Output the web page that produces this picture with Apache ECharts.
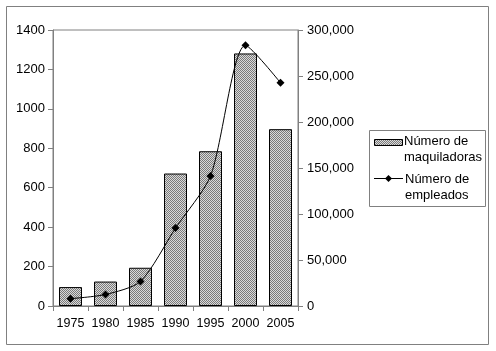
<!DOCTYPE html>
<html>
<head>
<meta charset="utf-8">
<script src="https://cdn.jsdelivr.net/npm/echarts@6/dist/echarts.min.js"></script>
<style>
  html, body { margin: 0; padding: 0; background: #fff; }
  #chart { width: 496px; height: 351px; }
</style>
</head>
<body>
<div id="chart"></div>
<script>
var years = ['1975', '1980', '1985', '1990', '1995', '2000', '2005'];
var maquiladoras = [96, 124, 194, 672, 785, 1281, 897];
var empleados = [8000, 12500, 26700, 84700, 141300, 283300, 242600];
var leftTicks = { min: 0, max: 1400, interval: 200 };
var rightTicks = { min: 0, max: 300000, interval: 50000 };

// fine gray hatch like the old spreadsheet fill
function makeHatch() {
    var c = document.createElement('canvas');
    c.width = 4; c.height = 4;
    var ctx = c.getContext('2d');
    ctx.fillStyle = '#dadada';
    ctx.fillRect(0, 0, 4, 4);
    ctx.fillStyle = '#7a7a7a';
    for (var i = 0; i < 4; i++) {
        ctx.fillRect(i, i % 4, 1, 1);
        ctx.fillRect(i, (i + 2) % 4, 1, 1);
    }
    return c;
}
var hatch = makeHatch();

var font = 'Liberation Sans, Arial, sans-serif';
var gray = '#808080';

var chart = echarts.init(document.getElementById('chart'));
var option = {
    backgroundColor: '#fff',
    animation: false,
    textStyle: { fontFamily: font },
    grid: {
        left: 53, right: 198, top: 30, bottom: 45,
        show: true, borderColor: gray, borderWidth: 1, backgroundColor: 'transparent'
    },
    xAxis: {
        type: 'category',
        data: years,
        axisLine: { lineStyle: { color: gray } },
        axisTick: { show: true, length: 5, interval: 0, lineStyle: { color: gray } },
        axisLabel: { color: '#000', fontSize: 12.5, margin: 11, interval: 0, hideOverlap: false, fontFamily: font }
    },
    yAxis: [{
        type: 'value',
        min: leftTicks.min, max: leftTicks.max, interval: leftTicks.interval,
        axisLine: { show: true, lineStyle: { color: gray } },
        axisTick: { show: true, length: 5, lineStyle: { color: gray } },
        splitLine: { show: false },
        axisLabel: { color: '#000', fontSize: 13, margin: 8, fontFamily: font,
            formatter: function (v) { return String(v); } }
    }, {
        type: 'value',
        position: 'right',
        min: rightTicks.min, max: rightTicks.max, interval: rightTicks.interval,
        axisLine: { show: true, lineStyle: { color: gray } },
        axisTick: { show: true, length: 5, lineStyle: { color: gray } },
        splitLine: { show: false },
        axisLabel: {
            color: '#000', fontSize: 13, margin: 9, fontFamily: font,
            formatter: function (v) { return v.toString().replace(/\B(?=(\d{3})+(?!\d))/g, ','); }
        }
    }],
    series: [{
        name: 'Número de maquiladoras',
        type: 'bar',
        yAxisIndex: 0,
        data: maquiladoras,
        barWidth: 23,
        itemStyle: { color: { image: hatch, repeat: 'repeat' }, borderColor: '#000', borderWidth: 1 }
    }, {
        name: 'Número de empleados',
        type: 'line',
        yAxisIndex: 1,
        data: empleados,
        smooth: 0.25,
        symbol: 'diamond',
        symbolSize: 8,
        lineStyle: { color: '#000', width: 1 },
        itemStyle: { color: '#000' }
    }],
    graphic: [
        { type: 'rect', shape: { x: 6.5, y: 6.5, width: 482, height: 338 },
          style: { fill: 'none', stroke: gray, lineWidth: 1 }, silent: true },
        { type: 'group', left: 369, top: 130, children: [
            { type: 'rect', shape: { x: 0.5, y: 0.5, width: 116, height: 76 },
              style: { fill: '#fff', stroke: gray, lineWidth: 1 } },
            { type: 'rect', shape: { x: 5.5, y: 9.5, width: 28, height: 6 },
              style: { fill: { image: hatch, repeat: 'repeat' }, stroke: '#000', lineWidth: 1 } },
            { type: 'text', x: 35, y: 3, style: { text: 'Número de\nmaquiladoras', font: '13px ' + font, fill: '#000', lineHeight: 16 } },
            { type: 'line', shape: { x1: 5, y1: 48.5, x2: 34, y2: 48.5 }, style: { stroke: '#000', lineWidth: 1 } },
            { type: 'polygon', shape: { points: [[19.5, 45], [23, 48.5], [19.5, 52], [16, 48.5]] }, style: { fill: '#000' } },
            { type: 'text', x: 36, y: 41, style: { text: 'Número de\nempleados', font: '13px ' + font, fill: '#000', lineHeight: 16, align: 'left' } }
        ] }
    ]
};
chart.setOption(option);
</script>
</body>
</html>
